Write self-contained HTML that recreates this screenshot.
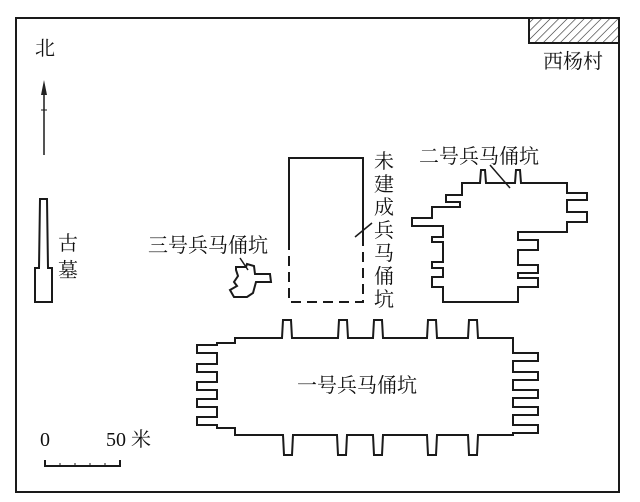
<!DOCTYPE html>
<html><head><meta charset="utf-8"><style>
html,body{margin:0;padding:0;background:#fff;}
svg{display:block;}
text{font-family:"Liberation Serif","Noto Serif CJK SC","Noto Sans CJK SC",serif;fill:#111;}
</style></head><body>
<svg width="640" height="502" viewBox="0 0 640 502" xmlns="http://www.w3.org/2000/svg">
<defs>
<pattern id="h" width="6" height="6" patternUnits="userSpaceOnUse" patternTransform="rotate(45)">
<rect width="6" height="6" fill="#fff"/><line x1="0" y1="0" x2="0" y2="6" stroke="#222" stroke-width="1.2"/>
</pattern>
</defs>
<g fill="none" stroke="#1a1a1a" stroke-width="2">
<rect x="16" y="18" width="603" height="474"/>
<rect x="529" y="18" width="90" height="25" fill="url(#h)"/>
<line x1="44" y1="88" x2="44" y2="155" stroke-width="1.5"/>
<line x1="41" y1="110" x2="47" y2="110" stroke-width="1"/>
<path d="M40,199 L47,199 L48,268 L52,268 L52,302 L35,302 L35,268 L39,268 Z"/>
<path d="M289,240 L289,158 L363,158 L363,237"/>
<path d="M289,240 L289,302 L363,302 L363,237" stroke-dasharray="10,6"/>
<line x1="355" y1="237" x2="372" y2="223" stroke-width="1.5"/>
<path d="M236,267 L246,267 L247,264 L254,266 L255,274 L270,274 L271,282 L256,282 L253,293 L247,297 L234,297 L230,290 L237,286 L234,282 L238,276 L236,270 Z"/>
<line x1="240" y1="258" x2="248" y2="270" stroke-width="1.5"/>
<path d="M462,183 L480,183 L481,170 L485,170 L486,183 L515,183 L516,170 L520,170 L521,183 L567,183 L567,193 L587,193 L587,200 L567,200 L567,212 L587,212 L587,222 L567,222 L567,232 L518,232 L518,240 L538,240 L538,250 L518,250 L518,265 L538,265 L538,273 L518,273 L518,278 L538,278 L538,287 L518,287 L518,302 L443,302 L443,287 L432,287 L432,277 L443,277 L443,268 L432,268 L432,262 L443,262 L443,242 L432,242 L432,237 L443,237 L443,226 L412,226 L412,218 L432,218 L432,207 L460,207 L460,202 L446,202 L446,195 L462,195 Z"/>
<line x1="490" y1="165" x2="510" y2="188" stroke-width="1.5"/>
<path d="M235,338 L282,338 L283,320 L291,320 L292,338 L338,338 L339,320 L347,320 L348,338 L373,338 L374,320 L382,320 L383,338 L427,338 L428,320 L436,320 L437,338 L468,338 L469,320 L477,320 L478,338 L513,338
L513,353 L538,353 L538,361 L513,361 L513,372 L538,372 L538,380 L513,380 L513,390 L538,390 L538,398 L513,398 L513,407 L538,407 L538,415 L513,415 L513,425 L538,425 L538,433 L513,433 L513,435
L478,435 L477,455 L469,455 L468,435 L437,435 L436,455 L428,455 L427,435 L383,435 L382,455 L374,455 L373,435 L347,435 L346,455 L338,455 L337,435 L293,435 L292,455 L284,455 L283,435 L235,435 L235,428 L217,428 L217,425
L197,425 L197,417 L217,417 L217,407 L197,407 L197,399 L217,399 L217,390 L197,390 L197,382 L217,382 L217,372 L197,372 L197,364 L217,364 L217,353 L197,353 L197,345 L217,345 L217,343 L235,343 Z"/>
<path d="M45,460 L45,466 L120,466 L120,460" stroke-width="2"/>
<path d="M60,463 V466 M75,463 V466 M90,463 V466 M105,463 V466" stroke-width="1"/>
</g>
<polygon points="44,80 41,95 47,95" fill="#222"/>
<g font-size="20">
<text x="35" y="55">北</text>
<text x="543" y="68">西杨村</text>
<text x="58" y="250">古</text>
<text x="58" y="277">墓</text>
<text x="148" y="252">三号兵马俑坑</text>
<text x="419" y="163">二号兵马俑坑</text>
<text x="297" y="392">一号兵马俑坑</text>
<text x="374" y="168">未</text>
<text x="374" y="191">建</text>
<text x="374" y="214">成</text>
<text x="374" y="237">兵</text>
<text x="374" y="260">马</text>
<text x="374" y="283">俑</text>
<text x="374" y="306">坑</text>
<text x="40" y="446">0</text>
<text x="106" y="446">50 米</text>
</g>
</svg>
</body></html>
